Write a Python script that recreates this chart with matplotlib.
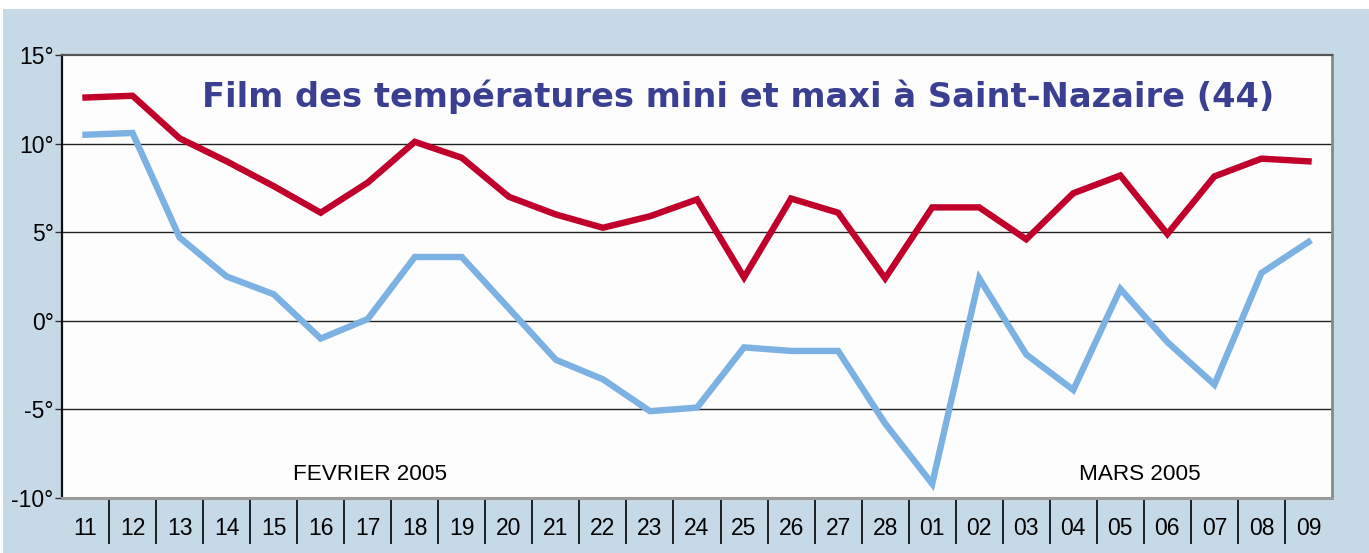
import matplotlib
matplotlib.use("Agg")
import matplotlib.pyplot as plt
import numpy as np
from matplotlib.patches import Rectangle

days = ["11", "12", "13", "14", "15", "16", "17", "18", "19", "20", "21", "22", "23", "24",
        "25", "26", "27", "28", "01", "02", "03", "04", "05", "06", "07", "08", "09"]
t_max = [12.6, 12.7, 10.3, 9.0, 7.6, 6.1, 7.8, 10.1, 9.2, 7.0, 6.0, 5.25, 5.9, 6.85,
         2.45, 6.9, 6.1, 2.4, 6.4, 6.4, 4.6, 7.2, 8.2, 4.9, 8.15, 9.15, 9.0]
t_min = [10.5, 10.6, 4.7, 2.5, 1.5, -1.0, 0.1, 3.6, 3.6, 0.7, -2.2, -3.3, -5.1, -4.9,
         -1.5, -1.7, -1.7, -5.8, -9.2, 2.4, -1.9, -3.9, 1.8, -1.2, -3.6, 2.7, 4.45]
y_ticks = [-10, -5, 0, 5, 10, 15]
y_labels = [f"{v}°" for v in y_ticks]
title = "Film des températures mini et maxi à Saint-Nazaire (44)"
month_labels = ["FEVRIER 2005", "MARS 2005"]

W, H = 1369, 553
fig = plt.figure(figsize=(W / 100, H / 100), dpi=100, facecolor="white")
bg = "#C6D9E7"
fig.patches.append(Rectangle((3 / W, 0), 1 - 3 / W, 1 - 9 / H, transform=fig.transFigure,
                             facecolor=bg, edgecolor="none", zorder=-10))

L, R, T, B = 62, 1332, 55, 498
ax = fig.add_axes([L / W, 1 - B / H, (R - L) / W, (B - T) / H])
ax.set_facecolor("#FDFDFD")

x = np.arange(len(days))
ax.plot(x, t_max, color="#C0002A", lw=4.6, solid_joinstyle="miter", zorder=3)
ax.plot(x, t_min, color="#7BB1E3", lw=4.6, solid_joinstyle="miter", zorder=3)

ax.set_xlim(-0.5, len(days) - 0.5)
ax.set_ylim(-10, 15)

for v in [-5, 0, 5, 10]:
    ax.axhline(v, color="#222222", lw=1.0, zorder=1)

ax.set_yticks(y_ticks)
ax.set_yticklabels(y_labels, fontsize=16.5, family="Liberation Sans")
ax.tick_params(axis="y", length=5, width=1, color="#333333", pad=1)

ax.set_xticks(x)
ax.set_xticklabels(days, fontsize=16.5, family="Liberation Sans")
ax.tick_params(axis="x", which="major", length=0, pad=14)
ax.set_xticks(np.arange(len(days) - 1) + 0.5, minor=True)
ax.tick_params(axis="x", which="minor", length=33, width=1.2, color="black", direction="out")

for side, c, w in [("left", "#111111", 1.6), ("top", "#555555", 1.6),
                   ("right", "#888888", 2.0), ("bottom", "#999999", 2.2)]:
    ax.spines[side].set_color(c)
    ax.spines[side].set_linewidth(w)

fig.text(738 / W, 1 - 97 / H, title, ha="center", va="center", fontsize=24.2,
         fontweight="bold", color="#3A3F91", family="DejaVu Sans")
fig.text(370 / W, 1 - 475 / H, month_labels[0], ha="center", va="center",
         fontsize=16.2, family="Liberation Sans")
fig.text(1140 / W, 1 - 475 / H, month_labels[1], ha="center", va="center",
         fontsize=16.2, family="Liberation Sans")

fig.savefig("out.png", dpi=100, facecolor="white")
